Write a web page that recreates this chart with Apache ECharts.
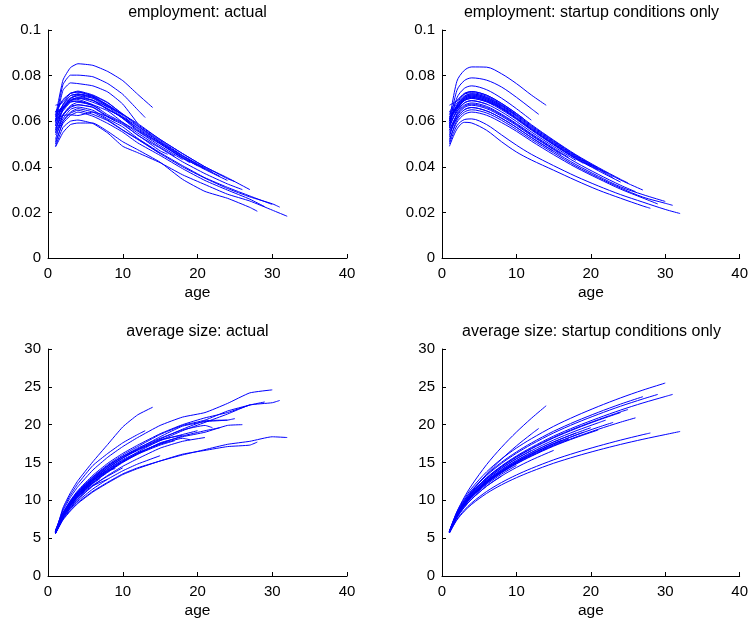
<!DOCTYPE html>
<html>
<head>
<meta charset="utf-8">
<title>firm cohorts by age</title>
<script src="https://cdn.jsdelivr.net/npm/echarts@6/dist/echarts.min.js"></script>
<style>
  html, body { margin: 0; padding: 0; background: #fff; }
  #chart { width: 751px; height: 620px; }
</style>
</head>
<body>
<div id="chart"></div>
<script>
// one line per cohort, ending at its last observed age
var endAges = [6, 7, 8, 9, 10, 11, 12, 13, 14, 15, 16, 17, 18, 19, 20, 21, 22, 23, 24, 25, 26, 27, 28, 29, 30, 31, 32];
var knotAges = [1, 2, 3, 4, 6, 8, 10, 12, 15, 18, 21, 24, 27, 30];

var panelTitles = ['employment: actual', 'employment: startup conditions only',
                   'average size: actual', 'average size: startup conditions only'];

// employment share, actual
var empActual = [
  [0.056, 0.065, 0.069, 0.0695, 0.0672],
  [0.063, 0.066, 0.0685, 0.0688, 0.0668, 0.0652],
  [0.058, 0.0655, 0.070, 0.0712, 0.0700, 0.0660],
  [0.061, 0.0625, 0.0628, 0.0625, 0.0640, 0.0620, 0.0600],
  [0.060, 0.0672, 0.0712, 0.0718, 0.0705, 0.0672, 0.0628],
  [0.064, 0.0690, 0.0722, 0.0728, 0.0710, 0.0670, 0.0625, 0.0598],
  [0.059, 0.0735, 0.0768, 0.0765, 0.0755, 0.0728, 0.0675, 0.0590],
  [0.060, 0.0760, 0.0802, 0.0802, 0.0795, 0.0765, 0.0718, 0.0650, 0.0616],
  [0.062, 0.0780, 0.0835, 0.0852, 0.0845, 0.0818, 0.0778, 0.0718, 0.0660],
  [0.054, 0.0600, 0.0640, 0.0655, 0.0640, 0.0605, 0.0562, 0.0522, 0.0458],
  [0.057, 0.0630, 0.0665, 0.0672, 0.0660, 0.0618, 0.0585, 0.0540, 0.0470, 0.0455],
  [0.052, 0.0625, 0.0668, 0.0683, 0.0670, 0.0628, 0.0594, 0.0548, 0.0485, 0.0446],
  [0.060, 0.0645, 0.0683, 0.0688, 0.0672, 0.0645, 0.0595, 0.0556, 0.0492, 0.0432],
  [0.056, 0.0655, 0.0695, 0.0702, 0.0683, 0.0655, 0.0612, 0.0558, 0.0500, 0.0437, 0.0418],
  [0.061, 0.0660, 0.0690, 0.0705, 0.0692, 0.0650, 0.0618, 0.0568, 0.0502, 0.0440, 0.0405],
  [0.063, 0.0668, 0.0702, 0.0712, 0.0690, 0.0663, 0.0612, 0.0572, 0.0508, 0.0445, 0.0390],
  [0.058, 0.0672, 0.0712, 0.0720, 0.0708, 0.0665, 0.0630, 0.0580, 0.0515, 0.0450, 0.0395, 0.0378],
  [0.062, 0.0662, 0.0700, 0.0718, 0.0702, 0.0668, 0.0618, 0.0578, 0.0510, 0.0448, 0.0392, 0.0358],
  [0.064, 0.0652, 0.0690, 0.0700, 0.0692, 0.0652, 0.0615, 0.0562, 0.0505, 0.0440, 0.0388, 0.0340],
  [0.067, 0.0682, 0.0722, 0.0732, 0.0715, 0.0682, 0.0630, 0.0590, 0.0520, 0.0458, 0.0400, 0.0348, 0.0335],
  [0.055, 0.0625, 0.0660, 0.0672, 0.0662, 0.0622, 0.0590, 0.0538, 0.0482, 0.0422, 0.0370, 0.0325, 0.0300],
  [0.064, 0.0695, 0.0722, 0.0728, 0.0712, 0.0680, 0.0632, 0.0585, 0.0520, 0.0458, 0.0400, 0.0352, 0.0300],
  [0.0487, 0.0550, 0.0585, 0.0592, 0.0592, 0.0555, 0.0510, 0.0475, 0.0420, 0.0345, 0.0292, 0.0262, 0.0222, 0.0205],
  [0.051, 0.0590, 0.0625, 0.0640, 0.0622, 0.0590, 0.0552, 0.0505, 0.0450, 0.0392, 0.0340, 0.0298, 0.0258, 0.0225],
  [0.055, 0.0610, 0.0652, 0.0662, 0.0648, 0.0610, 0.0575, 0.0525, 0.0462, 0.0405, 0.0352, 0.0310, 0.0272, 0.0235],
  [0.050, 0.0598, 0.0635, 0.0648, 0.0630, 0.0602, 0.0560, 0.0520, 0.0458, 0.0400, 0.0350, 0.0305, 0.0268, 0.0238, 0.0223],
  [0.049, 0.0572, 0.0600, 0.0605, 0.0590, 0.0548, 0.0490, 0.0462, 0.0418, 0.0365, 0.0322, 0.0280, 0.0250, 0.0210, 0.0183]
];

// employment share, startup conditions only
var empModel = [
  [0.058, 0.0642, 0.0680, 0.0690, 0.0675],
  [0.062, 0.0651, 0.0690, 0.0700, 0.0685, 0.0669],
  [0.060, 0.0665, 0.0704, 0.0715, 0.0699, 0.0664],
  [0.064, 0.0660, 0.0699, 0.0710, 0.0694, 0.0659, 0.0640],
  [0.061, 0.0670, 0.0709, 0.0720, 0.0704, 0.0669, 0.0625],
  [0.063, 0.0679, 0.0719, 0.0730, 0.0714, 0.0678, 0.0634, 0.0610],
  [0.057, 0.0702, 0.0744, 0.0755, 0.0738, 0.0701, 0.0655, 0.0605],
  [0.058, 0.0735, 0.0778, 0.0790, 0.0780, 0.0750, 0.0705, 0.0655, 0.0630],
  [0.060, 0.0775, 0.0823, 0.0838, 0.0837, 0.0808, 0.0765, 0.0715, 0.0670],
  [0.055, 0.0614, 0.0650, 0.0660, 0.0645, 0.0613, 0.0573, 0.0529, 0.0468],
  [0.056, 0.0623, 0.0660, 0.0670, 0.0655, 0.0622, 0.0582, 0.0537, 0.0475, 0.0453],
  [0.053, 0.0632, 0.0670, 0.0680, 0.0665, 0.0631, 0.0590, 0.0545, 0.0482, 0.0441],
  [0.059, 0.0642, 0.0680, 0.0690, 0.0675, 0.0641, 0.0599, 0.0553, 0.0489, 0.0428],
  [0.057, 0.0651, 0.0690, 0.0700, 0.0685, 0.0650, 0.0608, 0.0561, 0.0496, 0.0434, 0.0415],
  [0.060, 0.0656, 0.0694, 0.0705, 0.0689, 0.0655, 0.0612, 0.0565, 0.0499, 0.0437, 0.0401],
  [0.062, 0.0660, 0.0699, 0.0710, 0.0694, 0.0659, 0.0616, 0.0569, 0.0503, 0.0441, 0.0386],
  [0.059, 0.0670, 0.0709, 0.0720, 0.0704, 0.0669, 0.0625, 0.0577, 0.0510, 0.0447, 0.0391, 0.0373],
  [0.061, 0.0665, 0.0704, 0.0715, 0.0699, 0.0664, 0.0621, 0.0573, 0.0507, 0.0444, 0.0389, 0.0353],
  [0.063, 0.0656, 0.0694, 0.0705, 0.0689, 0.0655, 0.0612, 0.0565, 0.0499, 0.0437, 0.0383, 0.0333],
  [0.067, 0.0690, 0.0722, 0.0730, 0.0714, 0.0678, 0.0634, 0.0585, 0.0517, 0.0453, 0.0397, 0.0345, 0.0329],
  [0.056, 0.0628, 0.0665, 0.0675, 0.0660, 0.0627, 0.0586, 0.0541, 0.0478, 0.0419, 0.0367, 0.0319, 0.0291],
  [0.064, 0.0690, 0.0718, 0.0725, 0.0709, 0.0673, 0.0629, 0.0581, 0.0514, 0.0450, 0.0394, 0.0342, 0.0298],
  [0.049, 0.0565, 0.0595, 0.0592, 0.0560, 0.0510, 0.0465, 0.0430, 0.0385, 0.0340, 0.0298, 0.0262, 0.0228, 0.0218],
  [0.052, 0.0595, 0.0630, 0.0640, 0.0626, 0.0594, 0.0556, 0.0513, 0.0453, 0.0397, 0.0348, 0.0302, 0.0263, 0.0237],
  [0.054, 0.0614, 0.0650, 0.0660, 0.0645, 0.0613, 0.0573, 0.0529, 0.0468, 0.0410, 0.0359, 0.0312, 0.0278, 0.0248],
  [0.051, 0.0605, 0.0640, 0.0650, 0.0636, 0.0604, 0.0564, 0.0521, 0.0461, 0.0403, 0.0353, 0.0307, 0.0267, 0.0240, 0.0231],
  [0.050, 0.0580, 0.0607, 0.0610, 0.0585, 0.0540, 0.0495, 0.0455, 0.0405, 0.0358, 0.0316, 0.0278, 0.0245, 0.0213, 0.0195]
];

// average firm size, actual
var sizeActual = [
  [5.7, 8.2, 9.7, 10.9, 12.3],
  [5.9, 8.0, 9.4, 10.5, 12.2, 12.9],
  [5.6, 7.6, 9.0, 10.1, 11.9, 12.8],
  [5.8, 8.1, 9.6, 10.8, 12.6, 13.9, 14.2],
  [5.9, 7.9, 9.3, 10.4, 12.0, 13.2, 14.3],
  [5.8, 8.0, 9.5, 10.8, 12.7, 14.1, 15.3, 15.6],
  [6.0, 8.3, 9.9, 11.2, 13.1, 14.6, 15.8, 16.7],
  [5.7, 8.8, 10.7, 12.2, 14.6, 16.2, 17.6, 18.7, 19.2],
  [5.6, 9.0, 11.0, 12.6, 15.1, 17.4, 19.7, 21.3, 22.3],
  [5.6, 7.6, 8.9, 9.9, 11.5, 12.8, 13.9, 14.8, 15.9],
  [5.8, 8.0, 9.6, 10.8, 12.6, 14.1, 15.4, 16.3, 17.5, 17.8],
  [5.9, 7.8, 9.2, 10.4, 12.3, 13.7, 15.0, 16.1, 17.3, 17.9],
  [5.8, 8.1, 9.6, 10.9, 12.8, 14.3, 15.6, 16.7, 18.0, 18.6],
  [5.7, 7.9, 9.3, 10.5, 12.3, 13.8, 15.1, 16.2, 17.4, 18.2, 18.0],
  [5.9, 8.0, 9.5, 10.7, 12.6, 14.0, 15.2, 16.4, 17.9, 18.7, 19.2],
  [5.8, 7.7, 9.1, 10.2, 11.9, 13.3, 14.5, 15.5, 16.9, 17.8, 18.3],
  [5.9, 8.2, 9.8, 11.0, 12.9, 14.5, 15.8, 16.9, 18.2, 19.3, 19.9, 19.6],
  [5.8, 7.9, 9.4, 10.6, 12.4, 13.8, 15.1, 16.2, 17.5, 18.5, 19.2, 19.6],
  [5.9, 8.1, 9.7, 10.9, 12.8, 14.3, 15.6, 16.7, 18.1, 19.4, 20.5, 20.6],
  [6.0, 8.3, 9.9, 11.1, 13.0, 14.5, 15.8, 16.8, 18.4, 19.8, 20.4, 20.6, 20.8],
  [5.8, 7.9, 9.4, 10.6, 12.5, 13.9, 15.1, 16.1, 17.6, 18.4, 19.0, 19.9, 20.0],
  [5.9, 8.3, 10.0, 11.3, 13.3, 14.9, 16.2, 17.3, 18.8, 20.0, 20.9, 21.6, 22.6],
  [5.6, 7.4, 8.6, 9.6, 11.1, 12.3, 13.4, 14.2, 15.2, 16.1, 16.6, 17.1, 17.3, 17.7],
  [5.8, 8.2, 9.8, 11.1, 13.1, 14.7, 16.0, 17.1, 18.7, 19.9, 20.6, 21.8, 22.6, 23.0],
  [6.0, 8.6, 10.4, 11.8, 14.0, 15.7, 17.1, 18.3, 19.9, 21.0, 21.6, 22.8, 24.2, 24.6],
  [5.8, 8.1, 9.7, 10.9, 12.8, 14.3, 15.6, 16.6, 17.9, 19.2, 20.3, 21.4, 22.6, 22.9, 23.2],
  [5.7, 7.5, 8.7, 9.7, 11.2, 12.4, 13.5, 14.3, 15.2, 16.0, 16.7, 17.4, 17.8, 18.4, 18.3]
];

// average firm size, startup conditions only
var sizeModel = [
  [5.8, 8.0, 9.5, 10.7, 12.6],
  [5.9, 8.06, 9.54, 10.72, 12.54, 13.3],
  [5.7, 7.7, 9.08, 10.17, 11.87, 13.2],
  [5.9, 7.98, 9.41, 10.54, 12.31, 13.7, 14.3],
  [5.8, 7.84, 9.25, 10.36, 12.1, 13.46, 14.6],
  [5.8, 7.95, 9.43, 10.6, 12.42, 13.86, 15.05, 15.6],
  [5.9, 8.13, 9.67, 10.89, 12.78, 14.27, 15.52, 16.6],
  [5.9, 8.06, 9.72, 11.12, 13.47, 15.44, 17.19, 18.76, 19.5],
  [6.0, 8.49, 10.41, 12.02, 14.73, 17.01, 19.02, 20.83, 22.5],
  [5.7, 7.71, 9.09, 10.18, 11.88, 13.22, 14.34, 15.32, 16.6],
  [5.8, 7.96, 9.44, 10.62, 12.44, 13.88, 15.09, 16.13, 17.51, 17.9],
  [5.8, 7.92, 9.38, 10.54, 12.34, 13.75, 14.94, 15.96, 17.32, 18.1],
  [5.9, 8.08, 9.57, 10.76, 12.61, 14.06, 15.27, 16.33, 17.72, 18.9],
  [5.8, 7.95, 9.43, 10.6, 12.42, 13.86, 15.05, 16.1, 17.47, 18.63, 19.0],
  [5.8, 7.99, 9.5, 10.69, 12.55, 14.01, 15.23, 16.29, 17.7, 18.88, 19.6],
  [5.8, 7.89, 9.33, 10.47, 12.24, 13.64, 14.81, 15.82, 17.16, 18.29, 19.3],
  [5.9, 8.12, 9.65, 10.86, 12.75, 14.23, 15.47, 16.55, 17.97, 19.18, 20.25, 20.6],
  [5.8, 7.95, 9.42, 10.59, 12.41, 13.85, 15.04, 16.08, 17.46, 18.62, 19.66, 20.3],
  [5.9, 8.17, 9.74, 10.98, 12.91, 14.43, 15.7, 16.8, 18.25, 19.48, 20.59, 21.6],
  [5.9, 8.19, 9.76, 11.01, 12.95, 14.47, 15.75, 16.86, 18.32, 19.56, 20.66, 21.69, 22.0],
  [5.8, 7.9, 9.35, 10.5, 12.28, 13.69, 14.86, 15.88, 17.23, 18.37, 19.39, 20.33, 20.9],
  [5.9, 8.34, 10.01, 11.34, 13.41, 15.03, 16.39, 17.57, 19.13, 20.45, 21.63, 22.72, 23.7],
  [5.7, 7.48, 8.7, 9.67, 11.17, 12.36, 13.35, 14.21, 15.35, 16.31, 17.17, 17.96, 18.68, 18.9],
  [5.9, 8.29, 9.94, 11.25, 13.28, 14.88, 16.22, 17.38, 18.91, 20.21, 21.37, 22.44, 23.4, 24.0],
  [5.9, 8.45, 10.21, 11.61, 13.77, 15.48, 16.91, 18.14, 19.78, 21.16, 22.4, 23.54, 24.57, 25.5],
  [5.8, 8.14, 9.74, 11.02, 13.0, 14.56, 15.86, 16.99, 18.49, 19.75, 20.88, 21.93, 22.87, 23.72, 24.0],
  [5.7, 7.39, 8.56, 9.48, 10.92, 12.05, 12.99, 13.81, 14.9, 15.82, 16.64, 17.39, 18.07, 18.69, 19.1]
];

var FONT = '"Liberation Sans", Arial, Helvetica, sans-serif';

// panel boxes (plot area, px)
var boxes = [
  { left: 48,  top: 30,  width: 299, height: 228 },
  { left: 442, top: 30,  width: 299, height: 228 },
  { left: 48,  top: 349, width: 299, height: 228 },
  { left: 442, top: 349, width: 299, height: 228 }
];

var panelData = [empActual, empModel, sizeActual, sizeModel];
var yMax = [0.1, 0.1, 30, 30];
var yStep = [0.02, 0.02, 5, 5];
var smoothness = [0.15, 0.3, 0.15, 0.3];

function cohortPoints(vals, endAge) {
  var ages = knotAges.filter(function (a) { return a < endAge; }).concat([endAge]);
  var pts = [];
  for (var i = 0; i < ages.length && i < vals.length; i++) {
    pts.push([ages[i], vals[i]]);
  }
  return pts;
}

var chart = echarts.init(document.getElementById('chart'), null, { renderer: 'canvas' });

var grids = [], xAxes = [], yAxes = [], titles = [], series = [];

boxes.forEach(function (b, p) {
  grids.push({ left: b.left, top: b.top, width: b.width, height: b.height, containLabel: false });
  titles.push({
    text: panelTitles[p],
    left: b.left + b.width / 2,
    top: b.top - 25,
    padding: 0,
    textAlign: 'center',
    textStyle: { fontFamily: FONT, fontSize: 16, fontWeight: 'normal', color: '#000' }
  });
  xAxes.push({
    type: 'value', gridIndex: p, min: 0, max: 40, interval: 10,
    name: 'age', nameLocation: 'middle', nameGap: 27,
    nameTextStyle: { fontFamily: FONT, fontSize: 15.5, color: '#000' },
    axisLine: { show: true, lineStyle: { color: '#000', width: 1 } },
    axisTick: { show: true, inside: true, length: 4, lineStyle: { color: '#000' } },
    axisLabel: { fontFamily: FONT, fontSize: 15, color: '#000', margin: 8 },
    splitLine: { show: false }
  });
  yAxes.push({
    type: 'value', gridIndex: p, min: 0, max: yMax[p], interval: yStep[p],
    axisLine: { show: true, lineStyle: { color: '#000', width: 1 } },
    axisTick: { show: true, inside: true, length: 4, lineStyle: { color: '#000' } },
    axisLabel: { fontFamily: FONT, fontSize: 15, color: '#000', margin: 7 },
    splitLine: { show: false }
  });
  panelData[p].forEach(function (vals, i) {
    series.push({
      type: 'line',
      xAxisIndex: p,
      yAxisIndex: p,
      data: cohortPoints(vals, endAges[i]),
      symbol: 'none',
      smooth: smoothness[p],
      silent: true,
      lineStyle: { color: '#0000ff', width: 1 }
    });
  });
});

chart.setOption({
  animation: false,
  backgroundColor: '#fff',
  title: titles,
  grid: grids,
  xAxis: xAxes,
  yAxis: yAxes,
  series: series
});
</script>
</body>
</html>
